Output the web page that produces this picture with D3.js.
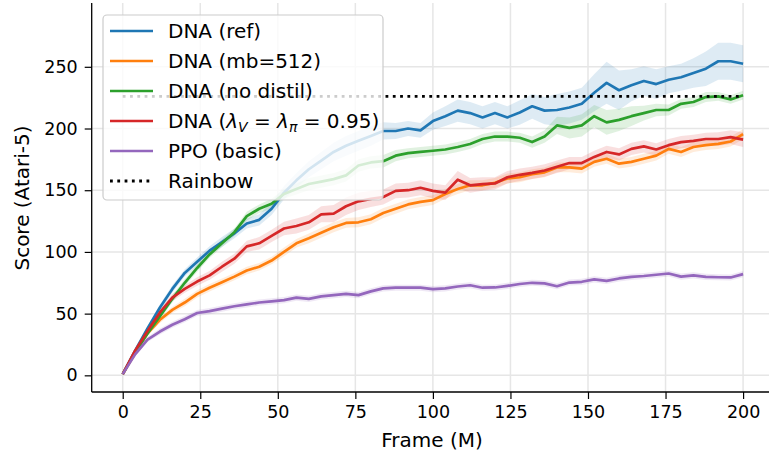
<!DOCTYPE html>
<html><head><meta charset="utf-8">
<script src="https://cdn.jsdelivr.net/npm/d3@7"></script>
<style>body{margin:0;background:#fff} svg{display:block} text{font-family:"DejaVu Sans",sans-serif;fill:#000}</style>
</head><body>
<svg id="c" width="769" height="455"></svg>
<script>
// ---------- data ----------
const frames = [0,4,8,12,16,20,24,28,32,36,40,44,48,52,56,60,64,68,72,76,80,84,88,92,96,100,104,108,112,116,120,124,128,132,136,140,144,148,152,156,160,164,168,172,176,180,184,188,192,196,200];

const dnaRef = [1,20,38,55,70,83,92,101,108,115,123,126,135,148,158,167,174,181,186,190,194,198,198,200,198.5,206,210,214.5,212.5,209,212.5,209,213,218,214.5,215,217,220,229,237,231,235,238.5,236,239.5,241.5,245,248.5,254.5,254.5,252.5];
const dnaRefErr = [0.5,1.5,2,2.5,3,3,3.5,3.5,4,4,4,4.5,5,5.5,6,6.5,7,7.5,8,8,8,7,6.5,6,6,7,8,9,9,9,9,9,10,10,11,13,13,13,15,17,16,13,12,12,11,11,12,14,15,15,15];

const dnaMb512 = [1,18,34,45,53,59,66,71,75.5,80,85,88,93,100,107,111,115.5,120,123.5,124,126.5,131.5,135,138.5,140.5,142,147,151,154,154,156,159.5,160.5,163,164.5,168.5,168.5,167.5,173,175.5,171.5,173,175.5,178,183.5,181,185,186.5,187.5,189.5,195.5];
const dnaMb512Err = [0.5,1.5,2,2.5,2.5,3,3,3,3,3,3,3,3,3.5,3.5,4,4,4,4,4,4,4,4,4,4,4,4,4,4,4,4,4,4,4,4,4,4,4,4,4,4,4,4,4,4,4,4,4,4,4,4];

const dnaNoDistil = [1,19,34,48,62,75,87,98,107,116,129,135,139,147,151,155,157,159,162,170,172.5,173.5,178,180,181,182,183,185,187.5,191.5,193.5,193.5,192.5,189,193.5,202.5,200.5,202.5,210,205,207,210,212.5,215,215,220,221.5,225.5,226,223.5,227];
const dnaNoDistilErr = [0.5,1.5,2,2.5,3,3,3,3,3,3,3.5,3.5,4,4,4.5,5,5,5,5,5,5,5,4.5,4,4,4,4,4,4,4,4,4,4,4.5,5,7,8.5,9,9,10,9,8,6,5,4.5,4,4,4,3.5,3.5,3.5];

const dnaLambda = [1,20,36,51,63,70,76,81,88,94.5,104.5,107,113,119,121,124,130.5,131,137,141,143,144.5,149.5,150,152,149.5,148,158.5,154,155,155.5,160.5,162.5,164,166,169,172,172,177,181,179,183.5,185.5,183,186.5,189,190,191.5,191.5,193,191];
const dnaLambdaErr = [0.5,1.5,2,2.5,3,3,3.5,3.5,4,4,4.5,5,5,5.5,6,6,6.5,7,7,7,6.5,6,6,6,6,6,6,7,6,5.5,5,5,5,5,5,5,5,5,5,5,5,5,5,5,5,5,5,5,5.5,5.5,6];

const ppoBasic = [1,17,29,35.5,41,45.5,50.5,52,54,56,57.5,59,60,61,63,62,64,65,66,65,68,70.5,71,71,71,69.8,70.4,72,73,71,71.2,72.5,74,75,74.5,72.2,75.2,75.8,77.7,76.5,78.5,79.8,80.5,81.5,82.5,80,81,79.8,79.5,79.3,82];
const ppoBasicErr = [0.5,1.5,2,2.5,2.5,2.5,2.5,2.5,2.5,2.5,2.5,2.5,2.5,2.5,2.5,2.5,2.5,2.5,2.5,2.5,2.5,2.5,2.5,2.5,2.5,2.5,2.5,2.5,2.5,2.5,2.5,2.5,2.5,2.5,2.5,2.5,2.5,2.5,2.5,2.5,2.5,2.5,2.5,2.5,2.5,2.5,2.5,2.5,2.5,2.5,2.5];

const rainbowScore = 226;
const rainbowFrames = [0, 200];

const xTicks = [0,25,50,75,100,125,150,175,200];
const yTicks = [0,50,100,150,200,250];

const seriesNames = ["DNA (ref)","DNA (mb=512)","DNA (no distil)","DNA (λV=λπ=0.95)","PPO (basic)"];
const seriesColors = ["#1f77b4","#ff7f0e","#2ca02c","#d62728","#9467bd"];
const seriesValues = [dnaRef, dnaMb512, dnaNoDistil, dnaLambda, ppoBasic];
const seriesErrs = [dnaRefErr, dnaMb512Err, dnaNoDistilErr, dnaLambdaErr, ppoBasicErr];

// ---------- drawing ----------
const svg = d3.select("#c");
const x = d3.scaleLinear().domain([-10, 210]).range([91.7, 774.1]);
const y = d3.scaleLinear().domain([-13.5, 301.7]).range([392, 3]);

// grid
const grid = svg.append("g");
grid.selectAll("line.gx").data(xTicks).join("line")
  .attr("x1", d => x(d)).attr("x2", d => x(d)).attr("y1", 3).attr("y2", 392)
  .attr("stroke", "#e6e6e6").attr("stroke-width", 1.5);
grid.selectAll("line.gy").data(yTicks).join("line")
  .attr("y1", d => y(d)).attr("y2", d => y(d)).attr("x1", 91.7).attr("x2", 769)
  .attr("stroke", "#e6e6e6").attr("stroke-width", 1.5);

// bands and lines
const plot = svg.append("g");
seriesValues.forEach((vals, k) => {
  const rows = frames.map((f, i) => ({f, v: vals[i], e: seriesErrs[k][i]}));
  plot.append("path").datum(rows)
    .attr("d", d3.area().x(d => x(d.f)).y0(d => y(d.v - d.e)).y1(d => y(d.v + d.e)))
    .attr("fill", seriesColors[k]).attr("fill-opacity", 0.15).attr("stroke", "none");
});
seriesValues.forEach((vals, k) => {
  const rows = frames.map((f, i) => ({f, v: vals[i]}));
  plot.append("path").datum(rows)
    .attr("d", d3.line().x(d => x(d.f)).y(d => y(d.v)))
    .attr("fill", "none").attr("stroke", seriesColors[k]).attr("stroke-width", 2.7)
    .attr("stroke-linejoin", "round").attr("stroke-linecap", "butt");
});
plot.append("path").datum(rainbowFrames)
  .attr("d", d3.line().x(d => x(d)).y(() => y(rainbowScore)))
  .attr("fill", "none").attr("stroke", "#000").attr("stroke-width", 2.8)
  .attr("stroke-dasharray", "2.8,4.5");

// axes
const xAxis = svg.append("g").attr("transform", "translate(0,392)")
  .call(d3.axisBottom(x).tickValues(xTicks).tickSize(7).tickPadding(7).tickFormat(d3.format("d")));
const yAxis = svg.append("g").attr("transform", "translate(91.7,0)")
  .call(d3.axisLeft(y).tickValues(yTicks).tickSize(7).tickPadding(7).tickFormat(d3.format("d")));
[xAxis, yAxis].forEach(a => {
  a.select(".domain").attr("stroke", "#000").attr("stroke-width", 1.3);
  a.selectAll(".tick line").attr("stroke", "#000").attr("stroke-width", 1.2);
  a.selectAll(".tick text").attr("font-size", 17.5).attr("font-family", "DejaVu Sans").attr("fill", "#000");
});
xAxis.select(".domain").attr("d", "M91.7,0H769");
yAxis.select(".domain").attr("d", "M0,3V392");

svg.append("text").attr("x", 432).attr("y", 447).attr("text-anchor", "middle")
  .attr("font-size", 20).text("Frame (M)");
svg.append("text").attr("transform", "translate(29,198) rotate(-90)").attr("text-anchor", "middle")
  .attr("font-size", 20).text("Score (Atari-5)");

// legend
const lg = svg.append("g");
lg.append("rect").attr("x", 103).attr("y", 15).attr("width", 280).attr("height", 185)
  .attr("rx", 4).attr("fill", "#fff").attr("fill-opacity", 0.8)
  .attr("stroke", "#cccccc").attr("stroke-width", 1.2);
const legendItems = seriesNames.map((n, k) => ({name: n, color: seriesColors[k], dash: null}))
  .concat([{name: "Rainbow", color: "#000", dash: "2.8,4.5"}]);
legendItems.forEach((it, i) => {
  const cy = 31 + i * 30;
  lg.append("line").attr("x1", 110).attr("x2", 153).attr("y1", cy).attr("y2", cy)
    .attr("stroke", it.color).attr("stroke-width", it.dash ? 2.8 : 2.7)
    .attr("stroke-dasharray", it.dash);
  const t = lg.append("text").attr("x", 168).attr("y", cy + 7).attr("font-size", 20);
  if (i === 3) {
    t.append("tspan").text("DNA (");
    t.append("tspan").attr("font-style", "italic").text("λ");
    t.append("tspan").attr("font-style", "italic").attr("font-size", 14).attr("dy", 4).text("V");
    t.append("tspan").attr("dy", -4).text(" = ");
    t.append("tspan").attr("font-style", "italic").text("λ");
    t.append("tspan").attr("font-style", "italic").attr("font-size", 14).attr("dy", 4).text("π");
    t.append("tspan").attr("dy", -4).text(" = 0.95)");
  } else {
    t.text(it.name);
  }
});
</script>
</body></html>
